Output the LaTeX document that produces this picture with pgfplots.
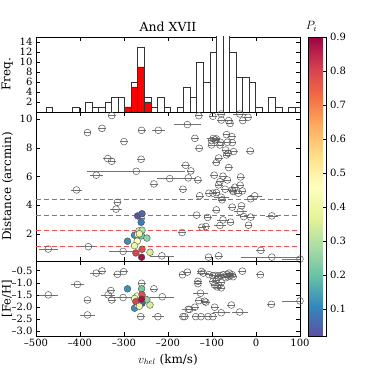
\documentclass[border=0pt]{standalone}
\usepackage{fontspec}
\setmainfont{DejaVu Serif}
\usepackage{pgfplots}
\usepackage{pgfplotstable}
\pgfplotsset{compat=1.18}

\definecolor{dashred}{RGB}{232,78,78}

\pgfplotsset{
  colormap={spectralr}{rgb255(0cm)=(94,79,162); rgb255(1cm)=(50,136,189); rgb255(2cm)=(102,194,165); rgb255(3cm)=(171,221,164); rgb255(4cm)=(230,245,152); rgb255(5cm)=(255,255,191); rgb255(6cm)=(254,224,139); rgb255(7cm)=(253,174,97); rgb255(8cm)=(244,109,67); rgb255(9cm)=(213,62,79); rgb255(10cm)=(158,1,66)},
  colormap name=spectralr,
  point meta min=0.02, point meta max=0.9,
  every tick label/.append style={font=\fontsize{10}{12}\selectfont},
  every axis label/.append style={font=\fontsize{12}{14}\selectfont},
  every axis title/.append style={font=\fontsize{12.5}{14}\selectfont},
  panel/.style={
    scale only axis, width=264pt, anchor=south west,
    xmin=-500, xmax=100,
    xtick={-500,-400,-300,-200,-100,0,100},
    tick align=inside, xtick pos=both, ytick pos=both,
    major tick length=4pt,
    axis line style={black, line width=0.6pt},
    every tick/.style={black, line width=0.5pt},
    /pgf/number format/assume math mode=true,
  },
  dashline/.style={color=dashred, line width=1.1pt, dash pattern=on 5pt off 3pt},
  gray pts/.style={only marks, mark=o, mark size=3.4pt,
    mark options={draw=black!65, line width=0.5pt},
    error bars/.cd, x dir=both, x explicit,
    error bar style={black!55, line width=0.6pt},
    error mark options={black!55, line width=0.6pt, mark size=2.2pt}},
  member pts/.style={scatter, only marks, mark=*, mark size=3.4pt,
    point meta=explicit,
    scatter/use mapped color={draw=black!70, fill=mapped color, line width=0.4pt}},
}

\pgfplotstableread{
v d feh p
-269 3.25 -1.72 0.03
-259 3.40 -1.85 0.06
-261 2.80 -1.80 0.09
-266 2.20 -1.58 0.50
-259 2.25 -1.60 0.30
-276 1.90 -2.05 0.12
-260 1.85 -1.25 0.22
-269 1.95 -1.92 0.45
-248 1.70 -1.70 0.25
-292 1.48 -1.25 0.12
-270 1.48 -1.55 0.46
-276 1.17 -1.65 0.40
-259 0.92 -1.50 0.78
-273 0.66 -1.78 0.80
-241 0.71 -1.92 0.35
-260 0.36 -1.68 0.88
-265 2.00 -1.97 0.40
}\members

\begin{document}
\begin{tikzpicture}
\useasboundingbox (0,0) rectangle (374pt,374pt);

% histogram
\begin{axis}[panel, at={(36pt,262pt)}, height=75pt,
  ymin=0, ymax=15, ytick={2,4,6,8,10,12,14},
  xticklabels=\empty,
  ylabel={Freq.},
  title={And XVII}, title style={yshift=-4pt},
  colorbar,
  colorbar style={
    at={(parent axis.north east)}, anchor=north west,
    scale only axis, width=18pt, height=299pt,
    ymin=0.02, ymax=0.9,
    ytick={0.1,0.2,0.3,0.4,0.5,0.6,0.7,0.8,0.9},
    yticklabels={0.1,0.2,0.3,0.4,0.5,0.6,0.7,0.8,0.9},
    ytick pos=right, yticklabel pos=right, tick align=inside,
    major tick length=4pt,
    axis line style={black, line width=0.6pt},
    every tick/.style={black, line width=0.5pt},
    title={$P_i$}, title style={yshift=-4pt, xshift=-6pt},
  },
]
\addplot[ybar interval, fill=white, draw=black!80, line width=0.5pt] coordinates {
(-477.1,1) (-462.2,0) (-447.3,0) (-432.5,0) (-417.6,1) (-402.7,0) (-387.8,2) (-372.9,1)
(-358.1,1) (-343.2,2) (-328.3,3) (-313.4,3) (-298.5,1) (-283.7,6) (-268.8,13) (-253.9,3)
(-239.0,1) (-224.1,3) (-209.3,1) (-194.4,0) (-179.5,1) (-164.6,5) (-149.7,3) (-134.9,10)
(-120.0,6) (-105.1,12) (-90.2,17) (-75.3,16) (-60.5,12) (-45.6,7) (-30.7,7) (-15.8,6)
(-0.9,1) (14.0,0) (28.8,3) (43.7,1) (58.6,0) (73.5,1) (88.4,1) (103.2,0)
};
\addplot[ybar interval, fill=red, draw=black!80, line width=0.5pt] coordinates {
(-298.5,1) (-283.7,5) (-268.8,9) (-253.9,2) (-239.0,0)
};
\end{axis}

% distance
\begin{axis}[panel, at={(36pt,113pt)}, height=149pt,
  ymin=0.1, ymax=10.5, ytick={2,4,6,8,10},
  xticklabels=\empty,
  ylabel={Distance (arcmin)},
]
\addplot[dashline] coordinates {(-500,1.1) (100,1.1)};
\addplot[dashline] coordinates {(-500,2.2) (100,2.2)};
\addplot[dashline] coordinates {(-500,3.3) (100,3.3)};
\addplot[dashline] coordinates {(-500,4.4) (100,4.4)};
\addplot[gray pts] table[x=v, y=d, x error=e] {
v d e
-328 10.25 4
-383 9.06 4
-350 9.36 4
-260 9.22 4
-222 9.22 10
-156 9.62 26
-300 8.43 4
-337 7.25 6
-328 7.06 4
-261 7.20 4
-272 6.36 106
-363 6.09 10
-232 5.48 5
-196 5.85 25
-154 5.90 13
-166 5.11 5
-160 6.78 5
-148 6.39 3
-408 5.06 8
-315 4.20 3
-318 3.72 8
-135 3.30 5
-168 2.09 5
-381 1.10 11
-472 0.93 16
-302 0.77 26
-214 0.46 23
-261 3.07 3
-130 10.24 4
-98 10.20 4
-79 9.94 4
-79 10.36 4
-37 10.36 11
-18 10.13 4
-30 9.90 4
-62 9.90 4
-59 9.70 4
-139 8.66 4
-97 8.66 10
-93 8.55 4
-90 8.62 4
-101 8.50 4
-67 8.92 4
-55 8.78 4
-81 8.39 4
-65 8.39 4
-54 8.36 4
-101 8.20 4
-82 8.20 4
-69 7.85 4
-129 7.97 4
-63 7.62 4
-51 7.74 4
-13 7.78 4
-67 7.50 4
-85 7.29 4
-90 6.97 4
-62 6.62 4
-95 6.09 4
-75 6.02 4
-65 5.76 4
-132 5.76 4
-82 5.64 4
-85 5.41 4
-35 5.97 4
-36 5.39 4
-48 5.25 4
-70 5.11 4
-54 5.06 4
-31 4.99 4
-107 4.83 4
-98 4.83 4
-90 4.88 4
-40 4.83 4
-52 4.95 4
-128 4.65 4
-79 4.55 12
-77 4.37 4
-3 4.65 11
-12 4.44 4
-90 3.67 4
-54 3.86 4
-33 3.95 4
-36 3.55 10
-28 3.20 4
-12 3.16 4
36 3.25 8
-110 3.14 4
-75 2.97 9
-58 2.81 4
-82 2.58 8
-123 2.46 4
-114 2.51 4
-17 2.60 4
11 0.84 5
-108 0.37 4
-85 0.46 4
36 0.37 65
100 0.23 35
};
\addplot[member pts] table[x=v, y=d, meta=p] {\members};
\end{axis}

% metallicity
\begin{axis}[panel, at={(36pt,38pt)}, height=75pt,
  ymin=-3.2, ymax=-0.1,
  ytick={-3.0,-2.5,-2.0,-1.5,-1.0,-0.5},
  yticklabels={–3.0,–2.5,–2.0,–1.5,–1.0,–0.5},
  xticklabels={–500,–400,–300,–200,–100,0,100},
  xticklabel pos=lower,
  ylabel={[Fe/H]},
  ylabel style={at={(axis description cs:-0.11,0.5)}, anchor=center,
    inner sep=0pt, font=\fontsize{11.5}{13}\selectfont},
  xlabel={$v_{hel}$ (km/s)},
]
\addplot[gray pts] table[x=v, y=f, x error=e] {
v f e
-363 -0.60 9
-350 -0.51 4
-315 -0.65 4
-301 -0.54 4
-406 -1.07 9
-472 -1.50 16
-383 -1.71 4
-383 -2.33 11
-330 -1.32 4
-336 -1.50 11
-328 -1.71 4
-302 -1.61 26
-262 -2.40 4
-232 -1.25 4
-213 -1.58 22
-223 -2.40 9
-260 -1.02 4
-167 -0.67 4
-156 -0.56 4
-166 -2.40 4
-162 -2.40 4
-151 -2.10 9
-139 -2.01 4
-124 -0.53 4
-120 -0.60 9
-107 -0.66 4
-98 -0.71 4
-92 -0.70 4
-86 -0.72 4
-81 -0.70 4
-75 -0.67 4
-66 -0.65 4
-61 -0.60 4
-60 -0.71 4
-64 -0.75 4
-69 -0.79 4
-54 -0.67 4
-52 -0.75 4
-31 -0.52 4
10 -0.67 4
-132 -0.94 4
-132 -1.04 4
-98 -0.94 4
-90 -0.89 4
-94 -1.10 4
-88 -1.17 4
-79 -0.99 4
-79 -1.21 4
-84 -1.12 4
-126 -1.43 12
-130 -1.74 4
-114 -1.80 4
-117 -1.76 4
-154 -2.10 9
-94 -2.01 4
-56 -1.92 4
-79 -2.24 14
-37 -2.21 13
-137 -2.40 4
-125 -2.40 4
-109 -2.40 4
-98 -2.40 4
35 -1.89 4
100 -1.75 35
};
\addplot[member pts] table[x=v, y=feh, meta=p] {\members};
\end{axis}
\end{tikzpicture}
\end{document}
